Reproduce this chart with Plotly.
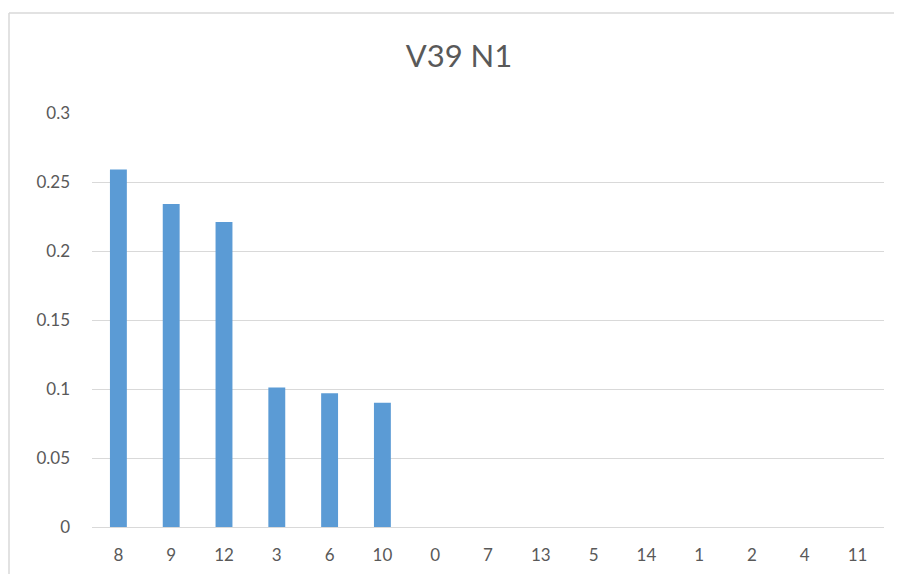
import plotly.graph_objects as go

categories = ["8", "9", "12", "3", "6", "10", "0", "7", "13", "5", "14", "1", "2", "4", "11"]
values = [0.259, 0.234, 0.221, 0.101, 0.097, 0.090, 0, 0, 0, 0, 0, 0, 0, 0, 0]
y_ticks = [0, 0.05, 0.1, 0.15, 0.2, 0.25, 0.3]
y_labels = ["0", "0.05", "0.1", "0.15", "0.2", "0.25", "0.3"]

FONT = "Lato, 'Open Sans', sans-serif"
TXT = "#595959"

# page body has an 8px default margin; figure is sized/offset to compensate
W, H = 886, 566
L, T = 84, 105
PW, PH = 792, 414

fx0 = (9 - 92) / PW
fy1 = 1 + (113 - 13) / PH
frame = dict(color="#d9d9d9", width=1.5)

fig = go.Figure(go.Bar(x=categories, y=values, marker=dict(color="#5b9bd5", line=dict(width=0))))

fig.update_layout(
    width=W, height=H,
    margin=dict(l=L, r=W - L - PW, t=T, b=H - T - PH),
    paper_bgcolor="white", plot_bgcolor="white",
    bargap=0.68,
    showlegend=False,
    title=dict(text="V39 N1", x=(459 - 8) / W, xref="container", xanchor="center",
               y=1 - (56 - 8) / H, yref="container", yanchor="middle",
               font=dict(family=FONT, size=31, color=TXT)),
    font=dict(family=FONT, size=17, color=TXT),
    xaxis=dict(type="category", categoryorder="array", categoryarray=categories,
               showgrid=False, showline=True, linecolor="#d9d9d9", linewidth=1,
               ticks="", ticklabelstandoff=13, tickfont=dict(size=17, color=TXT)),
    yaxis=dict(range=[0, 0.3], tickvals=y_ticks, ticktext=y_labels,
               showgrid=True, gridcolor="#d9d9d9", gridwidth=1, zeroline=False,
               showline=False, ticks="", ticklabelstandoff=21,
               tickfont=dict(size=17, color=TXT)),
    shapes=[
        dict(type="line", xref="paper", yref="paper", x0=fx0, x1=1.3, y0=fy1, y1=fy1,
             line=frame, layer="below"),
        dict(type="line", xref="paper", yref="paper", x0=fx0, x1=fx0, y0=-0.5, y1=fy1,
             line=frame, layer="below"),
    ],
)

fig.write_html("out.html")
